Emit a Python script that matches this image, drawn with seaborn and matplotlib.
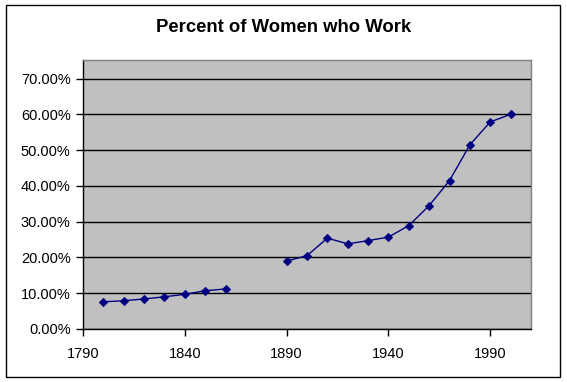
import matplotlib
matplotlib.use("Agg")
import matplotlib.pyplot as plt
import seaborn as sns
import pandas as pd
from matplotlib.patches import Rectangle
from matplotlib.ticker import FuncFormatter

years_early = [1800, 1810, 1820, 1830, 1840, 1850, 1860]
pct_early = [7.6, 7.9, 8.4, 9.0, 9.7, 10.7, 11.2]
years_late = [1890, 1900, 1910, 1920, 1930, 1940, 1950, 1960, 1970, 1980, 1990, 2000]
pct_late = [19.0, 20.5, 25.4, 23.8, 24.7, 25.7, 28.9, 34.5, 41.5, 51.5, 57.9, 60.0]
x_ticks = [1790, 1840, 1890, 1940, 1990]
y_ticks = [0, 0.1, 0.2, 0.3, 0.4, 0.5, 0.6, 0.7]
title = "Percent of Women who Work"

df = pd.DataFrame({
    "year": years_early + years_late,
    "share": [v / 100 for v in pct_early + pct_late],
    "segment": ["a"] * len(years_early) + ["b"] * len(years_late),
})

sns.set_style("white")
plt.rcParams["font.family"] = ["Liberation Sans", "DejaVu Sans"]

fig = plt.figure(figsize=(5.67, 3.82), dpi=100)
fig.patch.set_facecolor("white")
ax = fig.add_axes([83 / 567, 1 - 329 / 382, (531 - 83) / 567, (329 - 60) / 382])
ax.set_facecolor("#C0C0C0")

sns.lineplot(data=df, x="year", y="share", units="segment", estimator=None,
             color="#000080", marker="D", markersize=4.5, linewidth=1,
             markeredgecolor="#000080", ax=ax)

ax.set_xlim(1790, 2010)
ax.set_ylim(0, 0.752)
ax.set_xticks(x_ticks)
ax.set_xticklabels([str(t) for t in x_ticks])
ax.set_yticks(y_ticks)
ax.yaxis.set_major_formatter(FuncFormatter(lambda v, p: f"{v * 100:.2f}%"))
ax.grid(axis="y", color="black", linewidth=1)
ax.set_axisbelow(True)
ax.set_xlabel("")
ax.set_ylabel("")

for s in ["left", "bottom"]:
    ax.spines[s].set_color("black")
    ax.spines[s].set_linewidth(1)
for s in ["right", "top"]:
    ax.spines[s].set_color("#808080")
    ax.spines[s].set_linewidth(1)

ax.tick_params(axis="both", which="major", direction="out", length=5, width=1,
               color="black", labelsize=10.5, labelcolor="black", pad=4, left=True, bottom=True)
ax.tick_params(axis="x", pad=8)

fig.text(0.5, 1 - 28 / 382, title, ha="center", va="center", fontsize=13.3,
         fontweight="bold", color="black")
fig.patches.append(Rectangle((6 / 567, 5 / 382), (560 - 6) / 567, (377 - 5) / 382,
                             transform=fig.transFigure, fill=False, edgecolor="black", linewidth=1))

fig.savefig("out.png", dpi=100)
